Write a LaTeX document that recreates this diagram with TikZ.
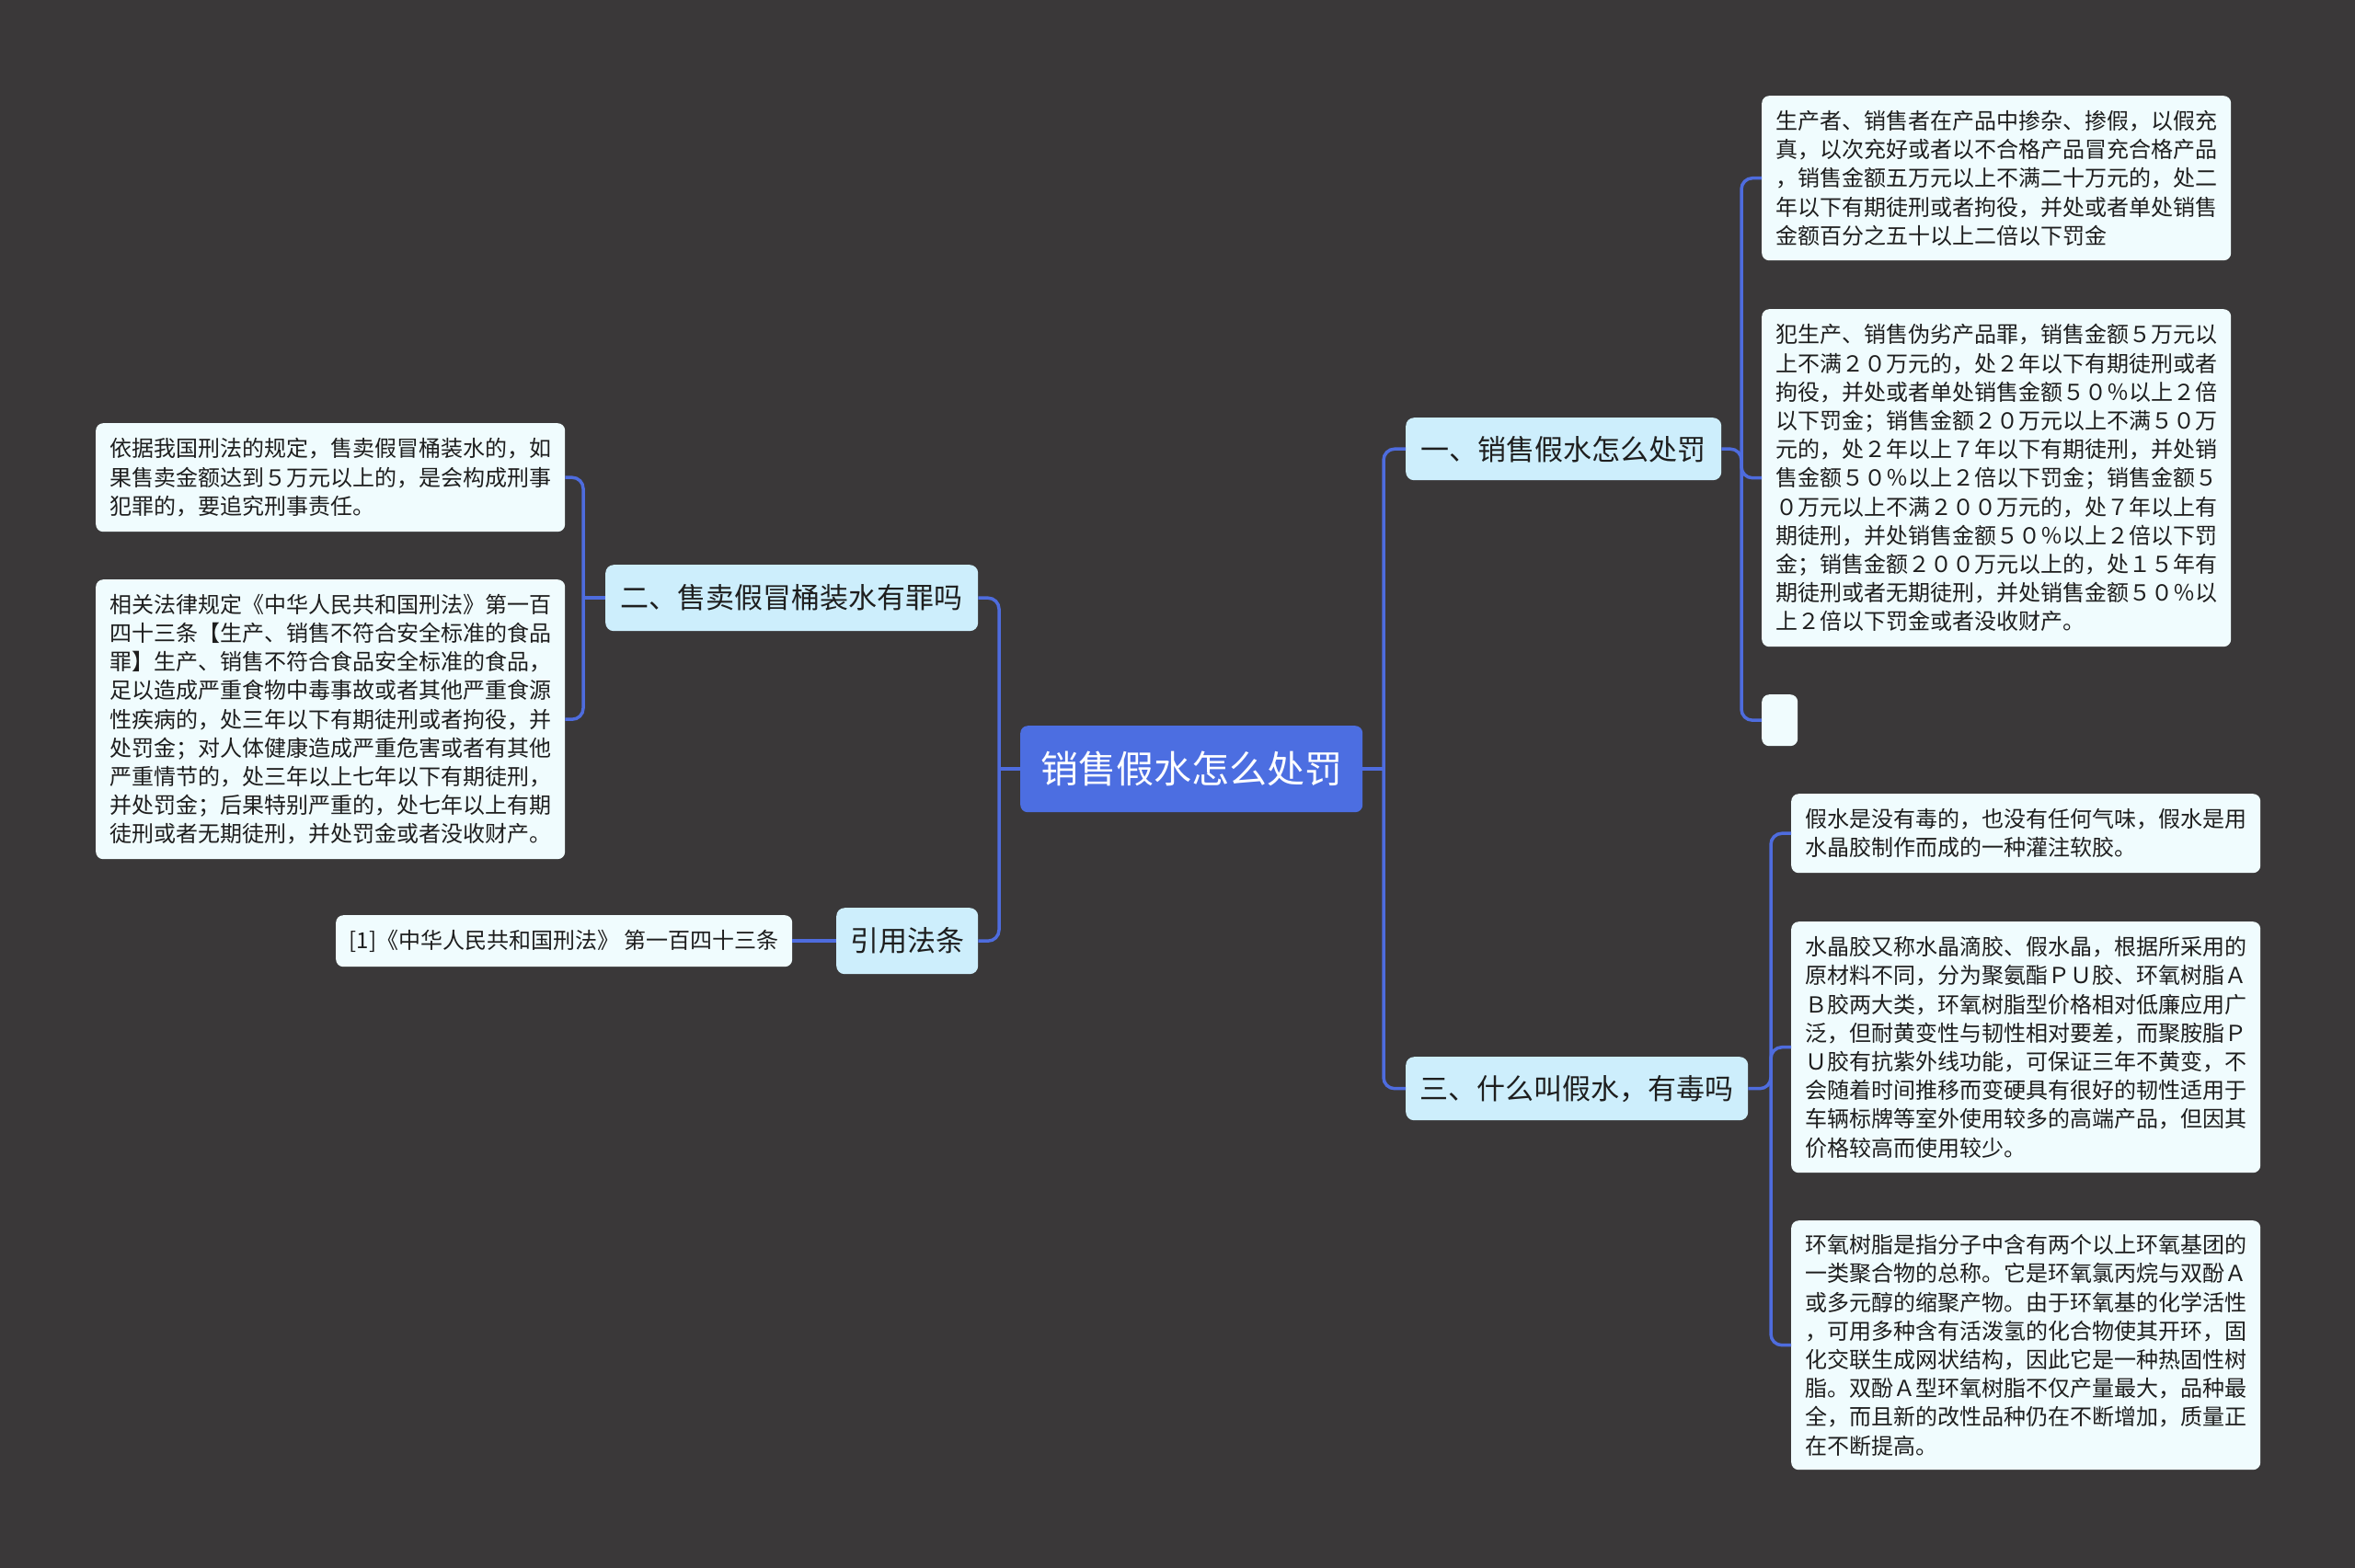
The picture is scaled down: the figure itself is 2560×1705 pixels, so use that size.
\documentclass[tikz,border=0pt]{standalone}
\usepackage{fontspec}
\newfontfamily\cjk{Noto Sans CJK SC}
\definecolor{bg}{RGB}{58,56,57}
\definecolor{rootfill}{RGB}{76,110,225}
\definecolor{branchfill}{RGB}{205,238,252}
\definecolor{leaffill}{RGB}{240,252,254}
\definecolor{linecol}{RGB}{78,108,222}
\definecolor{txt}{RGB}{30,30,30}
\begin{document}
\begin{tikzpicture}[x=1pt,y=-1pt,
  leaf/.style={fill=leaffill, rounded corners=8pt, text=txt,
    font=\cjk\fontsize{24}{31.2}\selectfont, align=left, text width=480pt,
    inner xsep=15pt, inner ysep=0pt, anchor=north west},
  citebox/.style={fill=leaffill, rounded corners=8pt, text=txt,
    font=\cjk\fontsize{24}{31.2}\selectfont, inner sep=0pt, anchor=north west},
  branch/.style={fill=branchfill, rounded corners=9pt, text=txt,
    font=\cjk\fontsize{31}{36}\selectfont, inner sep=0pt, anchor=north west},
  rootbox/.style={fill=rootfill, rounded corners=8pt, text=white,
    font=\cjk\fontsize{41}{46}\selectfont, inner sep=0pt, anchor=north west},
  conn/.style={draw=linecol, line width=3.5pt, rounded corners=12pt},
  straight/.style={draw=linecol, line width=3.5pt}]
\useasboundingbox (0,0) rectangle (2560,1705);
\fill[bg] (0,0) rectangle (2560,1705);

% root
\node[rootbox, minimum width=372pt, minimum height=94pt] (root) at (1109,789) {销售假水怎么处罚};

% left branches
\node[branch, minimum width=405pt, minimum height=72pt] (b2) at (658,614) {二、售卖假冒桶装水有罪吗};
\node[branch, minimum width=154pt, minimum height=72pt] (ref) at (909,987) {引用法条};
\node[citebox, minimum width=496pt, minimum height=56pt] (cite) at (365,995) {[1]《中华人民共和国刑法》 第一百四十三条};

\node[leaf, minimum height=118pt] (l1) at (104,460) {依据我国刑法的规定，售卖假冒桶装水的，如\\果售卖金额达到５万元以上的，是会构成刑事\\犯罪的，要追究刑事责任。};
\node[leaf, minimum height=304pt] (l2) at (104,630) {相关法律规定《中华人民共和国刑法》第一百\\四十三条【生产、销售不符合安全标准的食品\\罪】生产、销售不符合食品安全标准的食品，\\足以造成严重食物中毒事故或者其他严重食源\\性疾病的，处三年以下有期徒刑或者拘役，并\\处罚金；对人体健康造成严重危害或者有其他\\严重情节的，处三年以上七年以下有期徒刑，\\并处罚金；后果特别严重的，处七年以上有期\\徒刑或者无期徒刑，并处罚金或者没收财产。};

% right branches
\node[branch, minimum width=343pt, minimum height=68pt] (b1) at (1528,454) {一、销售假水怎么处罚};
\node[branch, minimum width=372pt, minimum height=69pt] (b3) at (1528,1149) {三、什么叫假水，有毒吗};

\node[leaf, minimum height=179pt] (r1) at (1915,104) {生产者、销售者在产品中掺杂、掺假，以假充\\真，以次充好或者以不合格产品冒充合格产品\\，销售金额五万元以上不满二十万元的，处二\\年以下有期徒刑或者拘役，并处或者单处销售\\金额百分之五十以上二倍以下罚金};
\node[leaf, minimum height=367pt] (r2) at (1915,336) {犯生产、销售伪劣产品罪，销售金额５万元以\\上不满２０万元的，处２年以下有期徒刑或者\\拘役，并处或者单处销售金额５０％以上２倍\\以下罚金；销售金额２０万元以上不满５０万\\元的，处２年以上７年以下有期徒刑，并处销\\售金额５０％以上２倍以下罚金；销售金额５\\０万元以上不满２００万元的，处７年以上有\\期徒刑，并处销售金额５０％以上２倍以下罚\\金；销售金额２００万元以上的，处１５年有\\期徒刑或者无期徒刑，并处销售金额５０％以\\上２倍以下罚金或者没收财产。};
\node[leaf, text width=9pt, minimum height=56pt] (empty) at (1915,755) {};

\node[leaf, minimum height=86pt] (r3) at (1947,863) {假水是没有毒的，也没有任何气味，假水是用\\水晶胶制作而成的一种灌注软胶。};
\node[leaf, minimum height=273pt] (r4) at (1947,1002) {水晶胶又称水晶滴胶、假水晶，根据所采用的\\原材料不同，分为聚氨酯ＰＵ胶、环氧树脂Ａ\\Ｂ胶两大类，环氧树脂型价格相对低廉应用广\\泛，但耐黄变性与韧性相对要差，而聚胺脂Ｐ\\Ｕ胶有抗紫外线功能，可保证三年不黄变，不\\会随着时间推移而变硬具有很好的韧性适用于\\车辆标牌等室外使用较多的高端产品，但因其\\价格较高而使用较少。};
\node[leaf, minimum height=271pt] (r5) at (1947,1327) {环氧树脂是指分子中含有两个以上环氧基团的\\一类聚合物的总称。它是环氧氯丙烷与双酚Ａ\\或多元醇的缩聚产物。由于环氧基的化学活性\\，可用多种含有活泼氢的化合物使其开环，固\\化交联生成网状结构，因此它是一种热固性树\\脂。双酚Ａ型环氧树脂不仅产量最大，品种最\\全，而且新的改性品种仍在不断增加，质量正\\在不断提高。};

% trunk coordinates
\coordinate (tL) at (1086,0);
\coordinate (tR) at (1504,0);
\coordinate (t2) at (634,0);
\coordinate (t1) at (1893,0);
\coordinate (t3) at (1925,0);

% root left
\draw[conn] (b2.east) -- (b2.east -| tL) -- (ref.east -| tL) -- (ref.east);
\draw[straight] (root.west) -- (root.west -| tL);
\draw[straight] (ref.west) -- (cite.east);
% b2 children
\draw[conn] (l1.east) -- (l1.east -| t2) -- (l2.east -| t2) -- (l2.east);
\draw[straight] (b2.west) -- (b2.west -| t2);
% root right
\draw[conn] (b1.west) -- (b1.west -| tR) -- (b3.west -| tR) -- (b3.west);
\draw[straight] (root.east) -- (root.east -| tR);
% b1 children
\draw[conn] (r1.west) -- (r1.west -| t1) -- (empty.west -| t1) -- (empty.west);
\draw[conn] (b1.east) -- (b1.east -| t1) |- (r2.west);
% b3 children
\draw[conn] (r3.west) -- (r3.west -| t3) -- (r5.west -| t3) -- (r5.west);
\draw[conn] (b3.east) -- (b3.east -| t3) |- (r4.west);
\end{tikzpicture}
\end{document}
